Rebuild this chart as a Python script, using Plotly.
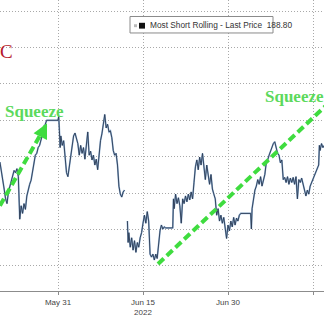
import plotly.graph_objects as go
import pandas as pd

# ---------------- data ----------------
times = [
    "2022-05-20 18:00", "2022-05-21 00:00", "2022-05-21 06:00", "2022-05-21 12:00", "2022-05-21 18:00",
    "2022-05-22 00:00", "2022-05-22 06:00", "2022-05-22 12:00", "2022-05-22 18:00",
    "2022-05-23 00:00", "2022-05-23 06:00", "2022-05-23 12:00", "2022-05-23 18:00",
    "2022-05-24 00:00", "2022-05-24 03:00", "2022-05-24 06:00", "2022-05-24 12:00", "2022-05-24 18:00",
    "2022-05-25 00:00", "2022-05-25 06:00", "2022-05-25 12:00", "2022-05-25 18:00",
    "2022-05-26 00:00", "2022-05-26 06:00", "2022-05-26 12:00", "2022-05-26 18:00",
    "2022-05-27 00:00", "2022-05-27 06:00", "2022-05-27 12:00", "2022-05-27 18:00",
    "2022-05-28 00:00", "2022-05-28 06:00", "2022-05-28 12:00", "2022-05-28 18:00",
    "2022-05-29 00:00", "2022-05-31 00:00", "2022-05-31 03:00", "2022-05-31 06:00", "2022-05-31 09:00",
    "2022-05-31 12:00", "2022-05-31 18:00",
    "2022-06-01 00:00", "2022-06-01 06:00", "2022-06-01 12:00", "2022-06-01 18:00",
    "2022-06-02 00:00", "2022-06-02 06:00", "2022-06-02 12:00", "2022-06-02 18:00",
    "2022-06-03 00:00", "2022-06-03 06:00", "2022-06-03 12:00", "2022-06-03 18:00",
    "2022-06-04 00:00", "2022-06-04 06:00", "2022-06-04 12:00", "2022-06-04 18:00",
    "2022-06-05 00:00", "2022-06-05 06:00", "2022-06-05 12:00", "2022-06-05 18:00",
    "2022-06-06 00:00", "2022-06-06 06:00", "2022-06-06 12:00", "2022-06-06 18:00",
    "2022-06-07 00:00", "2022-06-07 06:00", "2022-06-07 12:00", "2022-06-07 18:00",
    "2022-06-08 00:00", "2022-06-08 06:00", "2022-06-08 12:00", "2022-06-08 18:00",
    "2022-06-09 00:00", "2022-06-09 06:00", "2022-06-09 12:00", "2022-06-09 18:00",
    "2022-06-10 00:00", "2022-06-10 06:00", "2022-06-10 12:00", "2022-06-10 18:00",
    "2022-06-11 00:00", "2022-06-11 06:00", "2022-06-11 12:00", "2022-06-11 18:00",
    "2022-06-12 00:00",
    "2022-06-12 06:00", "2022-06-12 09:00", "2022-06-12 12:00", "2022-06-12 18:00",
    "2022-06-13 00:00", "2022-06-13 06:00", "2022-06-13 12:00", "2022-06-13 18:00",
    "2022-06-14 00:00", "2022-06-14 06:00", "2022-06-14 12:00", "2022-06-14 18:00",
    "2022-06-15 00:00", "2022-06-15 06:00", "2022-06-15 12:00", "2022-06-15 18:00",
    "2022-06-16 00:00", "2022-06-16 06:00", "2022-06-16 12:00", "2022-06-16 18:00",
    "2022-06-17 00:00", "2022-06-17 06:00", "2022-06-17 12:00", "2022-06-17 18:00",
    "2022-06-18 00:00", "2022-06-18 06:00", "2022-06-18 12:00", "2022-06-18 18:00",
    "2022-06-19 00:00", "2022-06-20 06:00", "2022-06-20 09:00", "2022-06-20 12:00", "2022-06-20 18:00",
    "2022-06-21 00:00", "2022-06-21 06:00", "2022-06-21 12:00", "2022-06-21 18:00",
    "2022-06-22 00:00", "2022-06-22 06:00", "2022-06-22 12:00", "2022-06-22 18:00",
    "2022-06-23 00:00", "2022-06-23 06:00", "2022-06-23 12:00", "2022-06-23 18:00",
    "2022-06-24 00:00", "2022-06-24 06:00", "2022-06-24 12:00", "2022-06-24 18:00",
    "2022-06-25 00:00", "2022-06-25 06:00", "2022-06-25 12:00", "2022-06-25 18:00",
    "2022-06-26 00:00", "2022-06-26 06:00", "2022-06-26 12:00", "2022-06-26 18:00",
    "2022-06-27 00:00", "2022-06-27 06:00", "2022-06-27 12:00", "2022-06-27 18:00",
    "2022-06-28 00:00", "2022-06-28 06:00", "2022-06-28 12:00", "2022-06-28 18:00",
    "2022-06-29 00:00", "2022-06-29 06:00", "2022-06-29 12:00", "2022-06-29 18:00",
    "2022-06-30 00:00", "2022-06-30 06:00", "2022-06-30 12:00", "2022-06-30 18:00",
    "2022-07-01 00:00", "2022-07-01 06:00", "2022-07-01 12:00", "2022-07-01 18:00",
    "2022-07-02 00:00", "2022-07-02 06:00", "2022-07-04 00:00", "2022-07-04 03:00",
    "2022-07-04 06:00", "2022-07-04 12:00", "2022-07-04 18:00",
    "2022-07-05 00:00", "2022-07-05 06:00", "2022-07-05 12:00", "2022-07-05 18:00",
    "2022-07-06 00:00", "2022-07-06 06:00", "2022-07-06 12:00", "2022-07-06 18:00",
    "2022-07-07 00:00", "2022-07-07 06:00", "2022-07-07 12:00", "2022-07-07 18:00",
    "2022-07-08 00:00", "2022-07-08 06:00", "2022-07-08 12:00", "2022-07-08 18:00",
    "2022-07-09 00:00", "2022-07-09 06:00", "2022-07-09 12:00", "2022-07-09 18:00",
    "2022-07-10 00:00", "2022-07-10 06:00", "2022-07-10 12:00", "2022-07-10 18:00",
    "2022-07-11 00:00", "2022-07-11 06:00", "2022-07-11 12:00", "2022-07-11 18:00",
    "2022-07-12 00:00", "2022-07-12 06:00", "2022-07-12 12:00", "2022-07-12 18:00",
    "2022-07-13 00:00", "2022-07-13 06:00", "2022-07-13 12:00", "2022-07-13 18:00",
    "2022-07-14 00:00", "2022-07-14 06:00", "2022-07-14 12:00", "2022-07-14 18:00",
    "2022-07-15 00:00", "2022-07-15 06:00", "2022-07-15 12:00", "2022-07-15 18:00",
    "2022-07-16 00:00", "2022-07-16 03:00", "2022-07-16 06:00", "2022-07-16 12:00", "2022-07-16 18:00",
    "2022-07-17 00:00",
]

prices = [
    183.5, 181.4, 179.3, 176.1, 173.4,
    172.1, 175.3, 176.9, 178.7,
    180.1, 181.2, 180.6, 181.7,
    179.5, 170.7, 167.8, 171.5, 169.4,
    172.1, 170.5, 174.2, 176.1,
    177.4, 178.5, 180.6, 183.8,
    185.4, 185.9, 187.5, 188.1,
    189.9, 191.3, 192.6, 193.9,
    195.0, 195.0, 196.1, 192.1, 187.5,
    190.7, 188.1,
    189.4, 184.1, 180.6, 179.5,
    182.2, 184.9, 188.1, 190.7,
    191.5, 190.2, 188.6, 185.4,
    188.1, 185.9, 187.5, 184.3,
    188.1, 191.8, 185.4, 186.5,
    184.1, 185.4, 182.7, 184.3,
    181.4, 186.7, 189.4, 191.3,
    193.9, 196.6, 192.9, 193.9,
    191.8, 192.1, 190.2, 186.7,
    185.4, 185.9, 182.7, 176.9,
    174.7, 173.9, 175.3, 175.8,
    None,
    167.3, 161.4, 164.1, 160.1,
    162.7, 159.3, 161.9, 158.7,
    161.4, 160.1, 162.7, 164.1,
    166.7, 168.9, 166.7, 169.9,
    167.3, 158.2, 157.4, 158.2,
    156.6, 158.2, 157.0, 161.4,
    164.6, 166.2, 165.1, 165.7,
    165.4, 165.4, 173.4, 170.7, 174.7,
    172.1, 173.7, 171.5, 166.7,
    173.4, 172.1, 174.2, 172.6,
    174.7, 173.1, 175.3, 173.4,
    177.9, 182.2, 184.1, 181.4,
    184.9, 182.7, 185.9, 182.7,
    178.7, 182.7, 180.6, 177.4,
    180.1, 176.1, 174.7, 173.4,
    168.9, 170.7, 167.3, 168.9,
    166.7, 168.3, 165.4, 162.5,
    166.2, 164.6, 167.3, 165.7,
    168.3, 166.2, 168.1, 167.3,
    168.9, 169.4, 169.4, 165.1,
    170.7, 173.4, 175.8,
    176.9, 178.7, 177.4, 179.5,
    176.9, 178.7, 180.1, 183.3,
    184.1, 185.4, 186.7, 187.5,
    188.6, 189.1, 187.5, 185.9,
    185.4, 183.3, 184.1, 178.7,
    179.3, 177.9, 179.5, 177.4,
    179.1, 177.9, 179.3, 177.4,
    179.5, 173.4, 178.7, 177.9,
    179.1, 177.4, 176.1, 174.2,
    175.8, 174.7, 176.9, 177.9,
    178.7, 180.1, 181.2, 182.2,
    182.7, 188.1, 186.7, 188.6, 187.5,
    188.1,
]

tick_dates = ["2022-05-31", "2022-06-15", "2022-06-30", "2022-07-15"]
tick_labels = ["May 31", "Jun 15<br>2022", "Jun 30", "Jul 15"]
grid_values = [155, 165, 175, 185, 195, 205, 215, 225]

squeeze1_x = ["2022-05-20 18:00", "2022-05-29 01:30"]
squeeze1_y = [171.5, 194.2]
squeeze2_x = ["2022-06-17 15:30", "2022-07-19 17:00"]
squeeze2_y = [155.5, 202.6]

legend_text = "Most Short Rolling - Last Price  188.80"

x_range = ["2022-05-20 18:21", "2022-07-16 22:35"]
y_range = [148.07, 228.07]

GREEN = "#3fdc3f"
GRID = "#a9a9a9"

fig = go.Figure()

# price line: light halo + dark core
fig.add_trace(go.Scatter(x=pd.to_datetime(times), y=prices, mode="lines",
                         line=dict(color="#93b3d6", width=1.7), connectgaps=False,
                         hoverinfo="skip", showlegend=False))
fig.add_trace(go.Scatter(x=pd.to_datetime(times), y=prices, mode="lines",
                         line=dict(color="#2a3a52", width=0.9), connectgaps=False,
                         hoverinfo="skip", showlegend=False))

# squeeze dashed lines
fig.add_trace(go.Scatter(x=pd.to_datetime(squeeze1_x), y=squeeze1_y, mode="lines",
                         line=dict(color=GREEN, width=4, dash="8px,4px"),
                         hoverinfo="skip", showlegend=False))
fig.add_trace(go.Scatter(x=pd.to_datetime(squeeze2_x), y=squeeze2_y, mode="lines",
                         line=dict(color=GREEN, width=4, dash="8px,4px"),
                         hoverinfo="skip", showlegend=False))

annotations = [
    dict(x=pd.to_datetime(squeeze1_x[1]), y=squeeze1_y[1], xref="x", yref="y",
         ax=-4, ay=8, showarrow=True, arrowhead=2, arrowsize=1, arrowwidth=3,
         arrowcolor=GREEN, text=""),
    dict(x=34 / 324, y=1 - 115 / 300, xref="paper", yref="paper", text="<b>Squeeze</b>",
         showarrow=False, xanchor="center", yanchor="middle",
         font=dict(family="Liberation Serif", size=17, color="#5cd95c")),
    dict(x=263 / 324, y=1 - 100 / 300, xref="paper", yref="paper", text="<b>Squeeze</b>",
         showarrow=False, xanchor="left", yanchor="middle",
         font=dict(family="Liberation Serif", size=17, color="#5cd95c")),
    dict(x=0, y=1 - 53 / 300, xref="paper", yref="paper", text="C", xshift=-2,
         showarrow=False, xanchor="left", yanchor="middle",
         font=dict(family="Liberation Serif", size=19, color="#b5172b")),
    dict(x=148 / 324, y=1 - 26 / 300, xref="paper", yref="paper", text=legend_text,
         showarrow=False, xanchor="left", yanchor="middle",
         font=dict(family="Liberation Sans Narrow, Liberation Sans", size=8.3, color="#333333")),
]

shapes = [
    dict(type="rect", xref="paper", yref="paper", x0=130 / 324, x1=273 / 324,
         y0=1 - 34 / 300, y1=1 - 17 / 300, line=dict(color="#8a8a8a", width=1),
         fillcolor="white", layer="above"),
    dict(type="rect", xref="paper", yref="paper", x0=134 / 324, x1=137 / 324,
         y0=1 - 28 / 300, y1=1 - 25 / 300, line=dict(width=0),
         fillcolor="#bbbbbb", layer="above"),
    dict(type="rect", xref="paper", yref="paper", x0=139 / 324, x1=145 / 324,
         y0=1 - 29.5 / 300, y1=1 - 23.5 / 300, line=dict(width=0),
         fillcolor="#111111", layer="above"),
]

fig.update_layout(
    width=324, height=317,
    margin=dict(l=0, r=0, t=0, b=17),
    paper_bgcolor="white", plot_bgcolor="white",
    showlegend=False,
    annotations=annotations,
    shapes=shapes,
    xaxis=dict(type="date", range=pd.to_datetime(x_range), tickmode="array",
               tickvals=pd.to_datetime(tick_dates), ticktext=tick_labels,
               showgrid=True, gridcolor=GRID, griddash="1px,2px", gridwidth=1,
               showline=True, linecolor="#8c8c8c", linewidth=1,
               ticks="outside", ticklen=3, tickcolor="#8c8c8c",
               tickfont=dict(family="Liberation Sans", size=8, color="#444444"),
               zeroline=False, fixedrange=True),
    yaxis=dict(range=y_range, tickmode="array", tickvals=grid_values,
               showticklabels=False, showgrid=True, gridcolor=GRID,
               griddash="1px,2px", gridwidth=1, zeroline=False, showline=False,
               fixedrange=True),
)

fig.write_html("out.html")
